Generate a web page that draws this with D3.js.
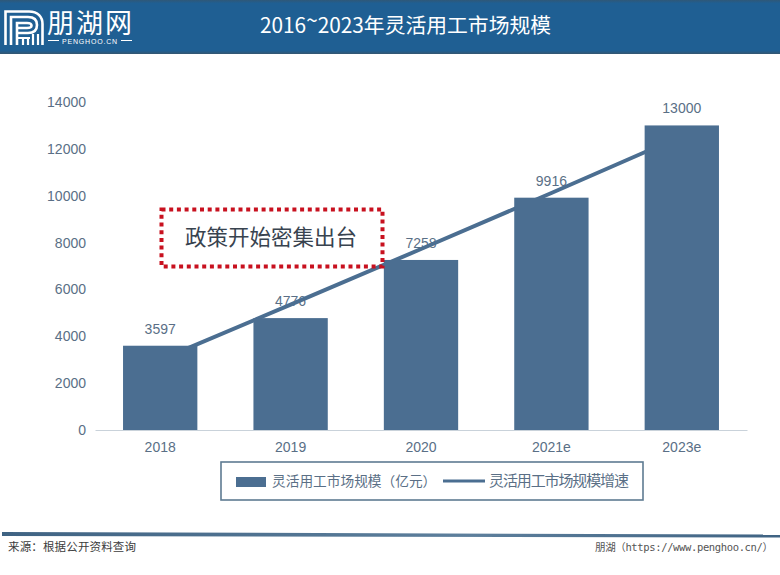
<!DOCTYPE html>
<html>
<head>
<meta charset="utf-8">
<title>灵活用工市场规模</title>
<script src="https://d3js.org/d3.v7.min.js"></script>
<style>
  html, body { margin: 0; padding: 0; background: #fff; }
  svg { display: block; }
  text { font-family: "Noto Sans CJK SC", "Liberation Sans", sans-serif; }
  .num { font-family: "Liberation Sans", Arial, sans-serif; }
  .axis text { font-family: "Liberation Sans", Arial, sans-serif; font-size: 14px; fill: #5a6f86; }
</style>
</head>
<body>
<svg id="chart" width="780" height="575"></svg>
<script>
// values
const categories = ["2018", "2019", "2020", "2021e", "2023e"];
const marketSize = [3597, 4776, 7258, 9916, 13000];
const trendLine = [2990, 5350, 7725, 10115, 12550];
const yTicks = [0, 2000, 4000, 6000, 8000, 10000, 12000, 14000];
const barName = "灵活用工市场规模（亿元）";
const lineName = "灵活用工市场规模增速";

const barColor = "#4b6e91";
const lineColor = "#4b6e91";

const svg = d3.select("#chart");

// header band
const defs = svg.append("defs");
const headGrad = defs.append("linearGradient").attr("id", "head")
  .attr("x1", 0).attr("x2", 0).attr("y1", 0).attr("y2", 1);
headGrad.append("stop").attr("offset", "0").attr("stop-color", "#2f5878");
headGrad.append("stop").attr("offset", "0.06").attr("stop-color", "#1f5f93");
headGrad.append("stop").attr("offset", "0.94").attr("stop-color", "#1f5f93");
headGrad.append("stop").attr("offset", "1").attr("stop-color", "#35566f");
svg.append("rect").attr("width", 780).attr("height", 54).attr("fill", "url(#head)");

// logo mark
const logo = svg.append("g").attr("fill", "none").attr("stroke", "#fff").attr("stroke-width", 2.6);
logo.append("path").attr("d", "M5.5 45V11.5H29C38 11.5 42.5 17 42.5 24V45");
logo.append("path").attr("d", "M11 45V17H28C34 17 37 20 37 25C37 30 34 33 28 33H17");
logo.append("path").attr("d", "M17 45V23H27C30 23 31.5 24 31.5 25.5C31.5 27 30 28 27 28H17");
logo.append("path").attr("d", "M17 38H30M23 38V45M28 38V45M33 34V45M38 34V45").attr("stroke-width", 2.2);

svg.append("text").attr("x", 47).attr("y", 33)
  .attr("font-size", 27).attr("fill", "#fff").attr("textLength", 85).text("朋湖网");
svg.append("path").attr("d", "M48 40.5H59M121 40.5H132").attr("stroke", "#fff").attr("stroke-width", 1);
svg.append("text").attr("class", "num").attr("x", 90).attr("y", 44)
  .attr("text-anchor", "middle").attr("font-size", 7).attr("letter-spacing", 0.8)
  .attr("fill", "#fff").text("PENGHOO.CN");

const title = svg.append("text").attr("x", 405.5).attr("y", 33)
  .attr("text-anchor", "middle").attr("font-size", 20.8).attr("fill", "#fff");
title.append("tspan").text("2016");
title.append("tspan").attr("dy", -5).text("~");
title.append("tspan").attr("dy", 5).text("2023年灵活用工市场规模");

// chart
const x = d3.scaleBand().domain(categories).range([95, 747]).paddingInner(0.43).paddingOuter(0.215);
const y = d3.scaleLinear().domain([0, 14000]).range([430, 102]);

const labels = svg.append("g");
const line = d3.line()
  .x((d, i) => x(categories[i]) + x.bandwidth() / 2)
  .y(d => y(d));
svg.append("path").datum(trendLine)
  .attr("d", line).attr("fill", "none")
  .attr("stroke", lineColor).attr("stroke-width", 4);

svg.append("g").selectAll("rect")
  .data(marketSize)
  .enter().append("rect")
    .attr("x", (d, i) => x(categories[i]))
    .attr("y", d => y(d))
    .attr("width", x.bandwidth())
    .attr("height", d => y(0) - y(d))
    .attr("fill", barColor);

labels.selectAll("text")
  .data(marketSize)
  .enter().append("text")
    .attr("class", "num")
    .attr("x", (d, i) => x(categories[i]) + x.bandwidth() / 2)
    .attr("y", d => y(d) - 12)
    .attr("text-anchor", "middle")
    .attr("font-size", 14)
    .attr("fill", "#5a6f86")
    .text(d => d);

const yAxis = svg.append("g").attr("class", "axis")
  .attr("transform", "translate(95,0)")
  .call(d3.axisLeft(y).tickValues(yTicks).tickFormat(d3.format("d")).tickSize(0).tickPadding(9));
yAxis.select(".domain").remove();

const xAxis = svg.append("g").attr("class", "axis")
  .attr("transform", "translate(0,430)")
  .call(d3.axisBottom(x).tickSize(0).tickPadding(12));
xAxis.select(".domain").attr("stroke", "#c9d2da").attr("stroke-width", 1);

// callout
svg.append("rect")
  .attr("x", 161.5).attr("y", 209.5).attr("width", 221).attr("height", 57)
  .attr("fill", "none").attr("stroke", "#c8111f")
  .attr("stroke-width", 4).attr("stroke-dasharray", "4 3.7");
svg.append("text").attr("x", 271).attr("y", 244.5)
  .attr("text-anchor", "middle").attr("font-size", 21.5).attr("fill", "#38434f")
  .text("政策开始密集出台");

// legend
svg.append("rect").attr("x", 221).attr("y", 462).attr("width", 422).attr("height", 38)
  .attr("fill", "#fff").attr("stroke", "#5e7b92").attr("stroke-width", 1.6);
svg.append("rect").attr("x", 236).attr("y", 477).attr("width", 30).attr("height", 10).attr("fill", barColor);
svg.append("text").attr("x", 272).attr("y", 486)
  .attr("font-size", 13.7).attr("fill", "#5a6f86").text(barName);
svg.append("line").attr("x1", 443).attr("x2", 485).attr("y1", 481).attr("y2", 481)
  .attr("stroke", lineColor).attr("stroke-width", 3);
svg.append("text").attr("x", 489).attr("y", 486)
  .attr("font-size", 15).attr("fill", "#5a6f86").attr("textLength", 140).text(lineName);

// footer
const footGrad = defs.append("linearGradient").attr("id", "foot");
footGrad.append("stop").attr("offset", "0").attr("stop-color", "#3f6383");
footGrad.append("stop").attr("offset", "0.6").attr("stop-color", "#5d7f9c");
footGrad.append("stop").attr("offset", "1").attr("stop-color", "#3f6383");
svg.append("polygon").attr("points", "2,532 780,534.5 780,537.5 2,536").attr("fill", "url(#foot)");
svg.append("text").attr("x", 8).attr("y", 550.5)
  .attr("font-size", 11.5).attr("fill", "#3c3c3c").attr("textLength", 128)
  .text("来源：根据公开资料查询");
svg.append("text").attr("x", 595).attr("y", 550.5)
  .attr("font-size", 10.5).attr("fill", "#555").attr("textLength", 178)
  .attr("style", "font-family:'DejaVu Sans Mono','Noto Sans CJK SC',monospace")
  .text("朋湖（https://www.penghoo.cn/）");
</script>
</body>
</html>
